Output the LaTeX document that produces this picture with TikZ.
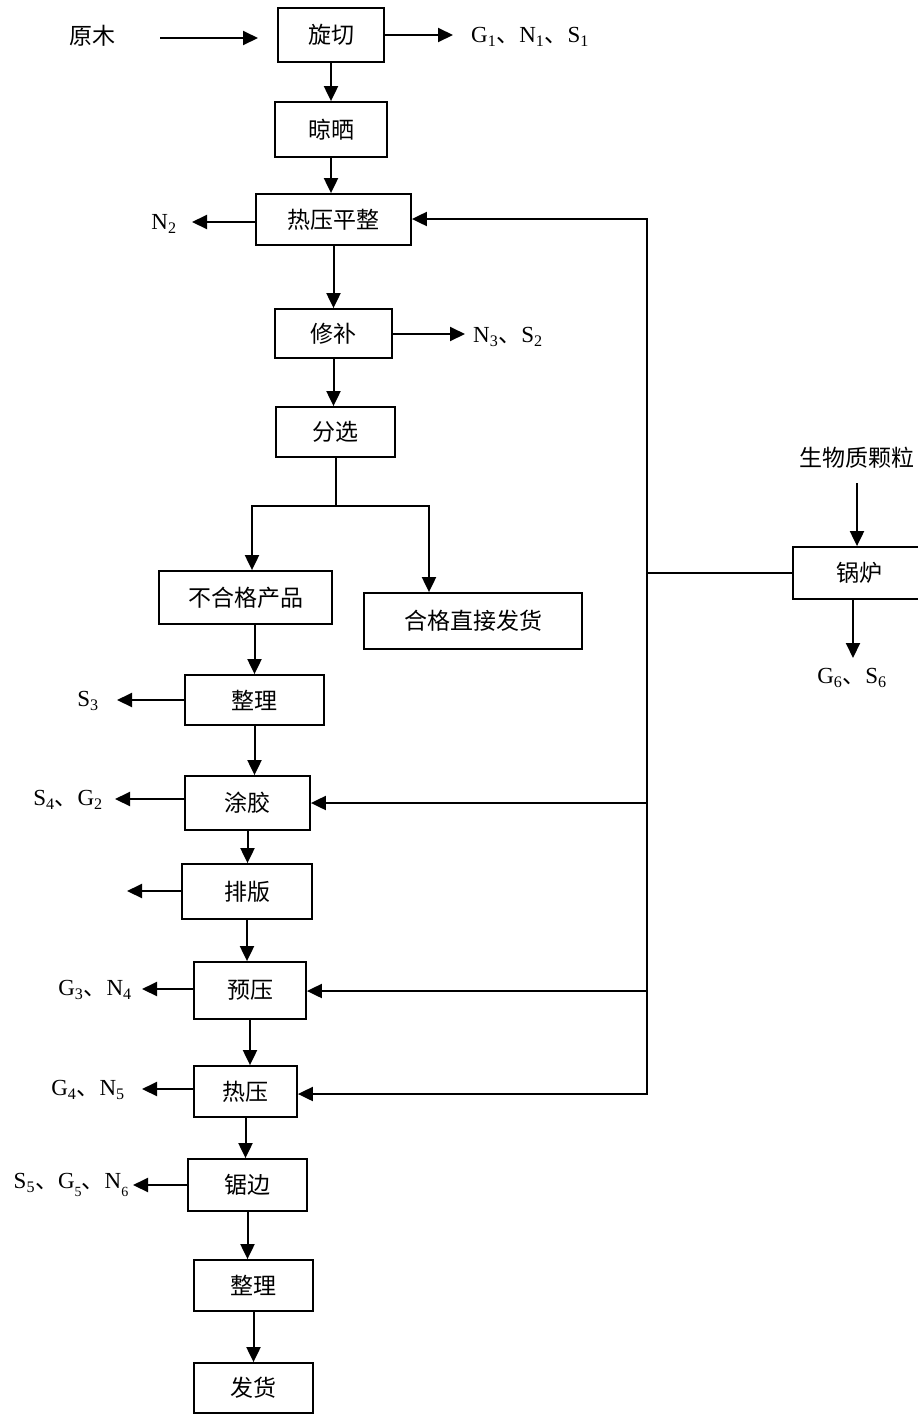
\documentclass[tikz,border=0pt]{standalone}
\usepackage{fontspec}
\setmainfont{Liberation Serif}
\newfontfamily\cjk{Noto Sans CJK SC}
\usetikzlibrary{arrows.meta}
\newcommand\dun{{\cjk 、}}
\newcommand\lsub[1]{\raisebox{-0.32em}{\fontsize{14}{14}\selectfont #1}}
\begin{document}
\begin{tikzpicture}[x=1pt,y=-1pt,
  box/.style={draw, line width=1.8pt, inner sep=0pt, font=\cjk\fontsize{23}{26}\selectfont},
  lab/.style={inner sep=0pt, font=\fontsize{23}{26}\selectfont},
  clab/.style={inner sep=0pt, font=\cjk\fontsize{23}{26}\selectfont},
  arr/.style={line width=2pt, -{Triangle[length=15pt,width=14pt]}},
  ln/.style={line width=2pt}]
\useasboundingbox (0,0) rectangle (918,1414);

% boxes
\node[box, minimum width=106pt, minimum height=54pt] (xq) at (331,35) {旋切};
\node[box, minimum width=112pt, minimum height=55pt] (lx) at (331,129.5) {晾晒};
\node[box, minimum width=155pt, minimum height=51pt] (rp) at (333.5,219.5) {热压平整};
\node[box, minimum width=117pt, minimum height=49pt] (xb) at (333.5,333.5) {修补};
\node[box, minimum width=119pt, minimum height=50pt] (fx) at (335.5,432) {分选};
\node[box, minimum width=173pt, minimum height=53pt] (bhg) at (245.5,597.5) {不合格产品};
\node[box, minimum width=218pt, minimum height=56pt] (hg) at (473,621) {合格直接发货\hspace{34pt}};
\node[box, minimum width=139pt, minimum height=50pt] (zl) at (254.5,700) {整理};
\node[box, minimum width=125pt, minimum height=54pt] (tj) at (247.5,803) {涂胶};
\node[box, minimum width=130pt, minimum height=55pt] (pb) at (247,891.5) {排版};
\node[box, minimum width=112pt, minimum height=57pt] (yy) at (250,990.5) {预压};
\node[box, minimum width=103pt, minimum height=51pt] (ry) at (245.5,1091.5) {热压};
\node[box, minimum width=119pt, minimum height=52pt] (jb) at (247.5,1185) {锯边};
\node[box, minimum width=119pt, minimum height=51pt] (zl2) at (253.5,1285.5) {整理};
\node[box, minimum width=119pt, minimum height=50pt] (fh) at (253.5,1388) {发货};
\node[box, minimum width=132pt, minimum height=52pt] (gl) at (859,573) {锅炉};

% labels
\node[clab] (ym) at (92,36) {原木};
\node[lab, anchor=west] (g1) at (471,37) {G\textsubscript{1}\dun N\textsubscript{1}\dun S\textsubscript{1}};
\node[lab] (n2) at (164,224) {N\textsubscript{2}};
\node[lab, anchor=west] (n3) at (473,337) {N\textsubscript{3}\dun S\textsubscript{2}};
\node[lab] (s3) at (88,701) {S\textsubscript{3}};
\node[lab] (s4) at (68,800) {S\textsubscript{4}\dun G\textsubscript{2}};
\node[lab] (g3) at (95,990) {G\textsubscript{3}\dun N\textsubscript{4}};
\node[lab] (g4) at (88,1090) {G\textsubscript{4}\dun N\textsubscript{5}};
\node[lab] (s5) at (71,1185) {S\textsubscript{5}\dun G\lsub{5}\dun N\lsub{6}};
\node[clab] (sw) at (857,458) {生物质颗粒};
\node[lab] (g6) at (852,678) {G\textsubscript{6}\dun S\textsubscript{6}};

% coordinates
\coordinate (ymS) at (160,38);
\coordinate (ymT) at (258,38);
\coordinate (tG1) at (453,35);
\coordinate (tN2) at (192,222);
\coordinate (tN3) at (465,334);
\coordinate (tS3) at (117,700);
\coordinate (tS4) at (115,799);
\coordinate (tPB) at (127,891);
\coordinate (tG3) at (142,989);
\coordinate (tG4) at (142,1089);
\coordinate (tS5) at (133,1185);
\coordinate (tG6) at (853,658);
\coordinate (swS) at (857,483);
\coordinate (bl) at (252,506);
\coordinate (brr) at (429,506);
\coordinate (b1) at (647,219);
\coordinate (b2) at (647,803);
\coordinate (b3) at (647,991);
\coordinate (b4) at (647,1094);
\coordinate (bg) at (647,573);

% main flow
\draw[arr] (ymS) -- (ymT);
\draw[arr] (xq.south) -- (xq.south |- lx.north);
\draw[arr] (lx.south) -- (lx.south |- rp.north);
\draw[arr] (rp.south) -- (rp.south |- xb.north);
\draw[arr] (xb.south) -- (xb.south |- fx.north);
\draw[ln] (fx.south) -- (fx.south |- bl);
\draw[ln, line cap=rect] (bl) -- (brr);
\draw[arr] (bl) -- (bl |- bhg.north);
\draw[arr] (brr) -- (brr |- hg.north);
\draw[arr] (zl.north |- bhg.south) -- (zl.north);
\draw[arr] (zl.south) -- (zl.south |- tj.north);
\draw[arr] (tj.south) -- (tj.south |- pb.north);
\draw[arr] (pb.south) -- (pb.south |- yy.north);
\draw[arr] (yy.south) -- (yy.south |- ry.north);
\draw[arr] (ry.south) -- (ry.south |- jb.north);
\draw[arr] (jb.south) -- (jb.south |- zl2.north);
\draw[arr] (zl2.south) -- (zl2.south |- fh.north);

% emissions
\draw[arr] (xq.east |- tG1) -- (tG1);
\draw[arr] (rp.west |- tN2) -- (tN2);
\draw[arr] (xb.east |- tN3) -- (tN3);
\draw[arr] (zl.west |- tS3) -- (tS3);
\draw[arr] (tj.west |- tS4) -- (tS4);
\draw[arr] (pb.west |- tPB) -- (tPB);
\draw[arr] (yy.west |- tG3) -- (tG3);
\draw[arr] (ry.west |- tG4) -- (tG4);
\draw[arr] (jb.west |- tS5) -- (tS5);

% boiler
\draw[arr] (swS) -- (swS |- gl.north);
\draw[arr] (tG6 |- gl.south) -- (tG6);
\draw[ln] (gl.west) -- (bg);
\draw[ln, line cap=rect] (b1) -- (b4);
\draw[arr] (b1) -- (b1 -| rp.east);
\draw[arr] (b2) -- (b2 -| tj.east);
\draw[arr] (b3) -- (b3 -| yy.east);
\draw[arr] (b4) -- (b4 -| ry.east);
\end{tikzpicture}
\end{document}
